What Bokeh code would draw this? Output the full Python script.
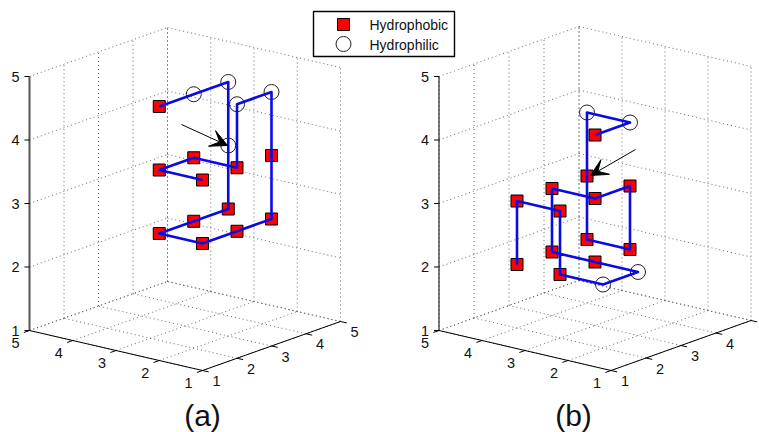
from bokeh.plotting import figure
from bokeh.models import Arrow, VeeHead
from bokeh.core.properties import value
from bokeh.embed import file_html
from bokeh.resources import INLINE

# Lattice chains: (left-axis value, right-axis value, vertical value)
a_left = [2, 2, 2, 2, 2, 2, 2, 1, 1, 1, 1, 1, 1, 1, 2, 2, 1]
a_right = [1, 2, 3, 3, 3, 2, 1, 1, 2, 3, 3, 3, 2, 2, 2, 1, 1]
a_up = [5, 5, 5, 4, 3, 3, 3, 3, 3, 3, 4, 5, 5, 4, 4, 4, 4]
a_type = list("HPPPHHHHHHHPPHHHH")

b_left = [3, 3, 4, 4, 4, 3, 3, 3, 4, 4, 3, 2, 2, 3, 3, 4, 4]
b_right = [3, 4, 4, 4, 4, 4, 4, 3, 3, 3, 3, 3, 2, 2, 2, 2, 2]
b_up = [4, 4, 4, 3, 2, 2, 3, 3, 3, 2, 2, 2, 2, 2, 3, 3, 2]
b_type = list("HPPHHHHHHHHPPHHHH")

tick_values = [1, 2, 3, 4, 5]
tick_labels = ["1", "2", "3", "4", "5"]
legend_labels = ["Hydrophobic", "Hydrophilic"]
panel_titles = ["(a)", "(b)"]

# Projection of each panel onto the page
panels = [
    dict(o=(202.0, 370.0), A=(-43.25, -10.0), B=(34.5, -12.25), Z=(0, -63.5),
         arrow=((181, 124), (227, 145)), title=(202, 414.5), zw=2.0, zc="#555555", last_right=True),
    dict(o=(610.5, 370.0), A=(-43.0, -10.0), B=(35.0, -12.5), Z=(0, -63.5),
         arrow=((635, 149), (590, 175)), title=(573, 414.5), zw=1.0, zc="#000000", last_right=False),
]
chains = [(a_left, a_right, a_up, a_type), (b_left, b_right, b_up, b_type)]

FONT = value("Liberation Sans")
GRID = "#444444"

p = figure(width=759, height=432, x_range=(0, 759), y_range=(432, 0),
           output_backend="svg", toolbar_location=None, min_border=0,
           outline_line_color=None)
p.xaxis.visible = False
p.yaxis.visible = False
p.xgrid.visible = False
p.ygrid.visible = False


def project(P, a, b, z):
    o, A, B, Z = P["o"], P["A"], P["B"], P["Z"]
    return (o[0] + (a - 1) * A[0] + (b - 1) * B[0] + (z - 1) * Z[0],
            o[1] + (a - 1) * A[1] + (b - 1) * B[1] + (z - 1) * Z[1])


for P, (L, R, U, T) in zip(panels, chains):
    gx, gy = [], []

    def seg(p0, p1):
        q0, q1 = project(P, *p0), project(P, *p1)
        gx.append([q0[0], q1[0]])
        gy.append([q0[1], q1[1]])

    for t in tick_values:
        seg((5, 1, t), (5, 5, t))      # left wall, horizontal
        seg((5, 5, t), (1, 5, t))      # right wall, horizontal
        seg((5, t, 1), (5, t, 5))      # left wall, vertical
        seg((t, 5, 1), (t, 5, 5))      # right wall, vertical
        seg((t, 1, 1), (t, 5, 1))      # floor
        seg((1, t, 1), (5, t, 1))      # floor
    p.multi_line(gx, gy, line_color=GRID, line_width=1, line_dash="1 3", line_alpha=0.8)

    # Axes
    c0, c1, c2 = project(P, 5, 1, 1), project(P, 1, 1, 1), project(P, 1, 5, 1)
    p.line([c0[0], c1[0], c2[0]], [c0[1], c1[1], c2[1]], line_color="black", line_width=1)
    top = project(P, 5, 1, 5)
    p.line([c0[0], top[0]], [c0[1], top[1]], line_color=P["zc"], line_width=P["zw"])

    # Ticks and labels
    tx, ty = [], []
    lx, ly, lt = [], [], []
    for t, s in zip(tick_values, tick_labels):
        q = project(P, 5, 1, t)
        tx.append([q[0], q[0] - 5]); ty.append([q[1], q[1]])
        lx.append(q[0] - 14); ly.append(q[1]); lt.append(s)
        q = project(P, t, 1, 1)
        tx.append([q[0], q[0] - 5.6]); ty.append([q[1], q[1] + 2.0])
        lx.append(q[0] - 14); ly.append(q[1] + 12.5); lt.append(s)
        q = project(P, 1, t, 1)
        tx.append([q[0], q[0] + 6.2]); ty.append([q[1], q[1] + 1.4])
        if t < 5 or P["last_right"]:
            lx.append(q[0] + 14); ly.append(q[1] + 10.5); lt.append(s)
    p.multi_line(tx, ty, line_color="black", line_width=1)
    p.text(lx, ly, text=lt, text_font=FONT, text_font_size="14.5px", text_color="#111111",
           text_align="center", text_baseline="middle")

    # Residues and the chain
    pts = [project(P, a, b, z) for a, b, z in zip(L, R, U)]
    hx = [q[0] for q, k in zip(pts, T) if k == "H"]
    hy = [q[1] for q, k in zip(pts, T) if k == "H"]
    cx = [q[0] for q, k in zip(pts, T) if k == "P"]
    cy = [q[1] for q, k in zip(pts, T) if k == "P"]
    p.scatter(hx, hy, marker="square", size=12, fill_color="#ff0000", line_color="black", line_width=1)
    p.scatter(cx, cy, marker="circle", size=15, fill_color="white", fill_alpha=0,
              line_color="#222222", line_width=1)
    p.line([q[0] for q in pts], [q[1] for q in pts], line_color="#0a0ae6", line_width=2.6,
           line_join="round")

    # Arrow and panel title
    (sx, sy), (ex, ey) = P["arrow"]
    p.add_layout(Arrow(end=VeeHead(size=17, fill_color="black", line_color="black", line_width=1),
                       x_start=sx, y_start=sy, x_end=ex, y_end=ey,
                       line_color="black", line_width=1))

p.text([P["title"][0] for P in panels], [P["title"][1] for P in panels], text=panel_titles,
       text_font=FONT, text_font_size="30px", text_color="#111111",
       text_align="center", text_baseline="middle")

# Legend
p.quad(left=[313], right=[454], top=[11], bottom=[56], fill_color="white",
       line_color="black", line_width=1.4)
p.scatter([343], [24], marker="square", size=12, fill_color="#ff0000", line_color="black", line_width=1)
p.scatter([343], [43.5], marker="circle", size=15, fill_color="white", line_color="#222222", line_width=1)
p.text([369, 369], [24, 44], text=legend_labels, text_font=FONT, text_font_size="14px",
       text_color="#111111", text_align="left", text_baseline="middle")

open("out.html", "w").write(file_html(p, INLINE))
